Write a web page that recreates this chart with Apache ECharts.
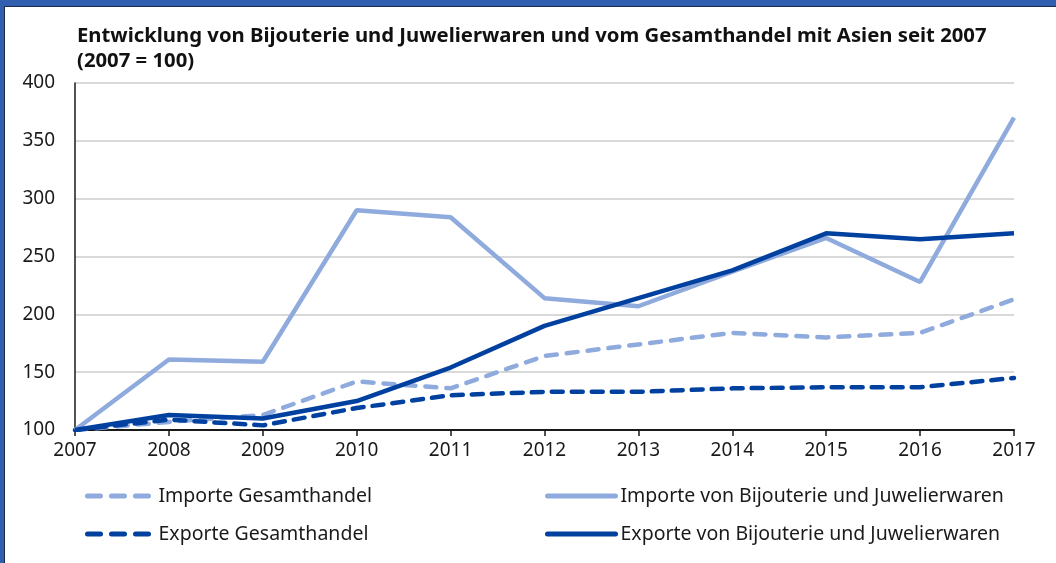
<!DOCTYPE html>
<html>
<head>
<meta charset="utf-8">
<script src="https://cdn.jsdelivr.net/npm/echarts@6/dist/echarts.min.js"></script>
<style>
  html, body { margin: 0; padding: 0; background: #fff; }
  .frame { position: relative; width: 1056px; height: 563px; overflow: hidden; }
  .band-top { position: absolute; left: 0; top: 0; width: 1056px; height: 6px; background: #2f5fae; }
  .band-left { position: absolute; left: 0; top: 0; width: 4px; height: 563px; background: #2f5fae; }
  .line-top { position: absolute; left: 4px; top: 6px; width: 1052px; height: 1px; background: #1c2b4d; }
  .line-left { position: absolute; left: 4px; top: 6px; width: 1px; height: 557px; background: #1c2b4d; }
  #chart { position: absolute; left: 0; top: 0; width: 1056px; height: 563px; }
</style>
</head>
<body>
<div class="frame">
  <div class="band-top"></div>
  <div class="band-left"></div>
  <div class="line-top"></div>
  <div class="line-left"></div>
  <div id="chart"></div>
</div>
<script>
// Jahre
const years = ['2007', '2008', '2009', '2010', '2011', '2012', '2013', '2014', '2015', '2016', '2017'];

// Indexwerte (2007 = 100)
const importeGesamt = [100, 107, 113, 142, 136, 164, 174, 184, 180, 184, 213];
const exporteGesamt = [100, 109, 104, 119, 130, 133, 133, 136, 137, 137, 145];
const importeBijou = [100, 161, 159, 290, 284, 214, 207, 237, 266, 228, 370];
const exporteBijou = [100, 113, 110, 125, 154, 190, 214, 238, 270, 265, 270];

const hell = '#8faadc';
const dunkel = '#0041a0';
const schrift = '"Noto Sans", "Open Sans", sans-serif';

const chart = echarts.init(document.getElementById('chart'));

// eine Legende je Eintrag, damit die Position wie im Original sitzt
const legende = (name, left, top, breite, abstand, lineStyle) => ({
  data: [name],
  left: left,
  top: top,
  itemWidth: breite,
  itemHeight: 14,
  itemStyle: { opacity: 0 },
  lineStyle: lineStyle,
  textStyle: { fontFamily: schrift, fontSize: 19.5, color: '#1a1a1a', padding: [0, 0, 0, abstand] }
});

const option = {
  animation: false,
  title: {
    text: 'Entwicklung von Bijouterie und Juwelierwaren und vom Gesamthandel mit Asien seit 2007\n(2007 = 100)',
    left: 72,
    top: 19,
    textStyle: {
      fontFamily: schrift,
      fontSize: 20.3,
      fontWeight: 'bold',
      color: '#111',
      lineHeight: 25
    }
  },
  legend: [
    legende('Importe Gesamthandel', 80, 481, 64, 2, { color: hell, width: 5, type: [13, 11], cap: 'round' }),
    legende('Exporte Gesamthandel', 80, 519, 64, 2, { color: dunkel, width: 5, type: [13, 11], cap: 'round' }),
    legende('Importe von Bijouterie und Juwelierwaren', 540, 481, 68, 0, { color: hell, width: 5, cap: 'round' }),
    legende('Exporte von Bijouterie und Juwelierwaren', 540, 519, 68, 0, { color: dunkel, width: 5, cap: 'round' })
  ],
  grid: {
    left: 75,
    right: 42,
    top: 83,
    bottom: 133,
    containLabel: false
  },
  xAxis: {
    type: 'category',
    data: years,
    boundaryGap: false,
    axisLine: { lineStyle: { color: '#1a1a1a', width: 2 } },
    axisTick: { show: true, length: 6, lineStyle: { color: '#1a1a1a', width: 1.5 }, alignWithLabel: true },
    axisLabel: { fontFamily: schrift, fontSize: 19, color: '#1a1a1a', margin: 11 },
    splitLine: { show: false }
  },
  yAxis: {
    type: 'value',
    min: 100,
    max: 400,
    interval: 50,
    axisLine: { show: true, lineStyle: { color: '#1a1a1a', width: 1.5 } },
    axisTick: { show: false },
    axisLabel: { fontFamily: schrift, fontSize: 19, color: '#1a1a1a', margin: 20 },
    splitLine: { lineStyle: { color: '#d9d9d9', width: 2 } }
  },
  series: [
    {
      name: 'Importe Gesamthandel',
      type: 'line',
      data: importeGesamt,
      symbol: 'none',
      lineStyle: { color: hell, width: 4.5, type: [11, 10], cap: 'round' },
      itemStyle: { color: hell }
    },
    {
      name: 'Exporte Gesamthandel',
      type: 'line',
      data: exporteGesamt,
      symbol: 'none',
      lineStyle: { color: dunkel, width: 4.5, type: [11, 9], cap: 'round' },
      itemStyle: { color: dunkel }
    },
    {
      name: 'Importe von Bijouterie und Juwelierwaren',
      type: 'line',
      data: importeBijou,
      symbol: 'none',
      lineStyle: { color: hell, width: 4.5 },
      itemStyle: { color: hell }
    },
    {
      name: 'Exporte von Bijouterie und Juwelierwaren',
      type: 'line',
      data: exporteBijou,
      symbol: 'none',
      lineStyle: { color: dunkel, width: 4.5 },
      itemStyle: { color: dunkel }
    }
  ]
};

chart.setOption(option);
</script>
</body>
</html>
